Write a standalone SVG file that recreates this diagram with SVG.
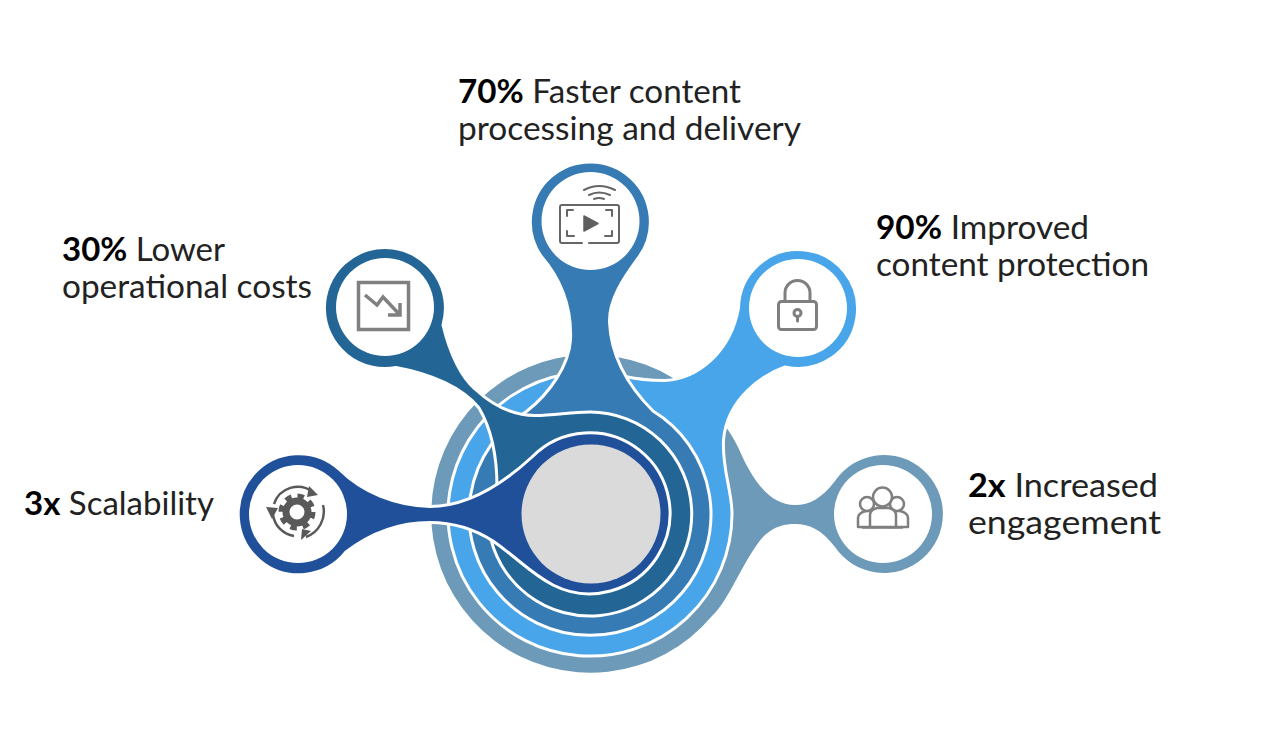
<svg xmlns="http://www.w3.org/2000/svg" width="1288" height="737" viewBox="0 0 1288 737">
<style>
.blob{stroke:#fff;stroke-width:3;stroke-linejoin:round}
.hole{fill:#fff}
.ic{fill:none;stroke:#7f7f7f;stroke-width:3;stroke-linecap:round;stroke-linejoin:round}
.ic2{fill:none;stroke:#666;stroke-width:2;stroke-linecap:round;stroke-linejoin:round}
.t{font-family:"Lato","Liberation Sans",sans-serif;font-size:33px;font-weight:400;fill:#222}
.t .b,.b{font-weight:700;fill:#000}
</style>
<rect width="1288" height="737" fill="#fff"/>
<g id="connectors">
<path fill="#6c9ab8" d="M673 378A159 159 0 1 0 712 616C730 600 745 555 765 535C775 526 785 524 795 524C810 524 822 530 835 547A59 59 0 1 0 835 481C822 498 810 505 795 505C765 505 748 470 738 447C733 437 725 425 715 410Z"/>
<path class="blob" fill="#49a5e9" d="M623 376C640 380 655 380.500 665 380.500C700 378.500 731 350 738.500 308A59.500 59.500 0 1 1 785 367C765 374 727 397 723.500 440C722 470 732 490 732 514A142 142 0 1 1 623 376Z"/>
<path class="blob" fill="#377bb5" d="M541 256C560 278 572 305 570.500 340C569 365 550 393 527 411A121 121 0 1 0 653 411C632 390 611 360 609.500 322C609 300 622 280 639 257A60 60 0 1 0 541 256Z"/>
<path class="blob" fill="#236594" d="M443 325C450 355 462 378 475 389C490 403 510 415.500 535 415.500C555 415.500 570 412 590 412A102 102 0 1 1 489 530L497 487C497 455 492 430 479 408C463 388 432 374 396 367.500A60.500 60.500 0 1 1 443 325Z"/>
<path class="blob" fill="#21509b" d="M340 470C362 492 395 505.500 430 506.500C470 506.500 505 482 532 457A80.500 80.500 0 1 1 553 585C530 573 520 560 493 541C475 529.500 455 522.500 430 522.500C400 522.500 372 532 346 552A60.500 60.500 0 1 1 340 470Z"/>
</g>
<g id="hub"><circle cx="591" cy="514" r="69.500" fill="#dadada"/></g>
<g id="node-scalability">
<circle class="hole" cx="298" cy="514" r="49"/>
<g transform="translate(297 512)">
<circle r="11" fill="none" stroke="#595959" stroke-width="7"/>
<circle r="16" fill="none" stroke="#595959" stroke-width="5" stroke-dasharray="6.500 6.070"/>
<g fill="none" stroke="#595959" stroke-width="2.500">
<path d="M-23 -8A25 25 0 0 1 16 -20"/>
<path d="M26 -7A27 27 0 0 1 9 25"/>
<path d="M-3 24A25 25 0 0 1 -24 3"/>
</g>
<g fill="#595959"><path d="M12 -26L21 -17L10 -15Z"/><path d="M14 19L4 28L5 17Z"/><path d="M-31 -5L-19 -4L-25 7Z"/></g>
</g>
<text class="t" x="24" y="515" textLength="190" lengthAdjust="spacingAndGlyphs"><tspan class="b">3x</tspan> Scalability</text>
</g>
<g id="node-costs">
<circle class="hole" cx="385" cy="307" r="49"/>
<rect x="358.500" y="282.500" width="50" height="47" fill="none" stroke="#808080" stroke-width="3.500"/>
<path d="M365 295L377 305L383 297L400 315M400 303V315H388" fill="none" stroke="#808080" stroke-width="3.500"/>
<text class="t" x="62" y="261" textLength="163" lengthAdjust="spacingAndGlyphs"><tspan class="b">30%</tspan> Lower</text>
<text class="t" x="62" y="298" textLength="250" lengthAdjust="spacingAndGlyphs">operational costs</text>
</g>
<g id="node-processing">
<circle class="hole" cx="590.500" cy="221" r="49"/>
<path class="ic2" d="M582 243H562Q560 243 560 241V207Q560 205 562 205H617Q619 205 619 207V241Q619 243 617 243H589"/>
<path class="ic2" d="M573 210H567V216M606 210H612V216M567 231V236H574M612 231V236H605"/>
<path d="M584 216L598 223.500L584 231Z" fill="#5f5f5f" stroke="#5f5f5f" stroke-width="1.500" stroke-linejoin="round"/>
<path class="ic2" d="M584 190Q599 182 615 190M589 195Q599 190 610 195M594 199Q599 197 604 199"/>
<text class="t" x="458" y="103" textLength="283" lengthAdjust="spacingAndGlyphs"><tspan class="b">70%</tspan> Faster content</text>
<text class="t" x="458" y="140" textLength="343" lengthAdjust="spacingAndGlyphs">processing and delivery</text>
</g>
<g id="node-protection">
<circle class="hole" cx="798" cy="308" r="49"/>
<rect x="778.500" y="301.500" width="38" height="28" rx="3" class="ic"/>
<path class="ic" d="M785 301V293A12.500 12.500 0 0 1 810 293V301"/>
<circle cx="797.500" cy="313" r="3.500" class="ic" stroke-width="2.500"/>
<path class="ic" d="M797.500 317V321" stroke-width="2"/>
<text class="t" x="876" y="239" textLength="213" lengthAdjust="spacingAndGlyphs"><tspan class="b">90%</tspan> Improved</text>
<text class="t" x="876" y="276" textLength="273" lengthAdjust="spacingAndGlyphs">content protection</text>
</g>
<g id="node-engagement">
<circle class="hole" cx="883" cy="514" r="49"/>
<g fill="#fff" stroke="#7f7f7f" stroke-width="2.500" stroke-linejoin="round">
<path d="M858 527V518Q858 513 866 511H870Q876 513 876 518V527Z"/>
<path d="M908 527V518Q908 513 900 511H896Q890 513 890 518V527Z"/>
<circle cx="867" cy="504" r="7"/>
<circle cx="897" cy="504" r="7"/>
<path d="M870 527V515Q870 510 877 508H889Q896 510 896 515V527Z"/>
<circle cx="882.500" cy="497" r="9.500"/>
<path d="M862 527.500H903"/>
</g>
<text class="t" x="968" y="497" textLength="190" lengthAdjust="spacingAndGlyphs"><tspan class="b">2x</tspan> Increased</text>
<text class="t" x="968" y="534" textLength="193" lengthAdjust="spacingAndGlyphs">engagement</text>
</g>
</svg>
